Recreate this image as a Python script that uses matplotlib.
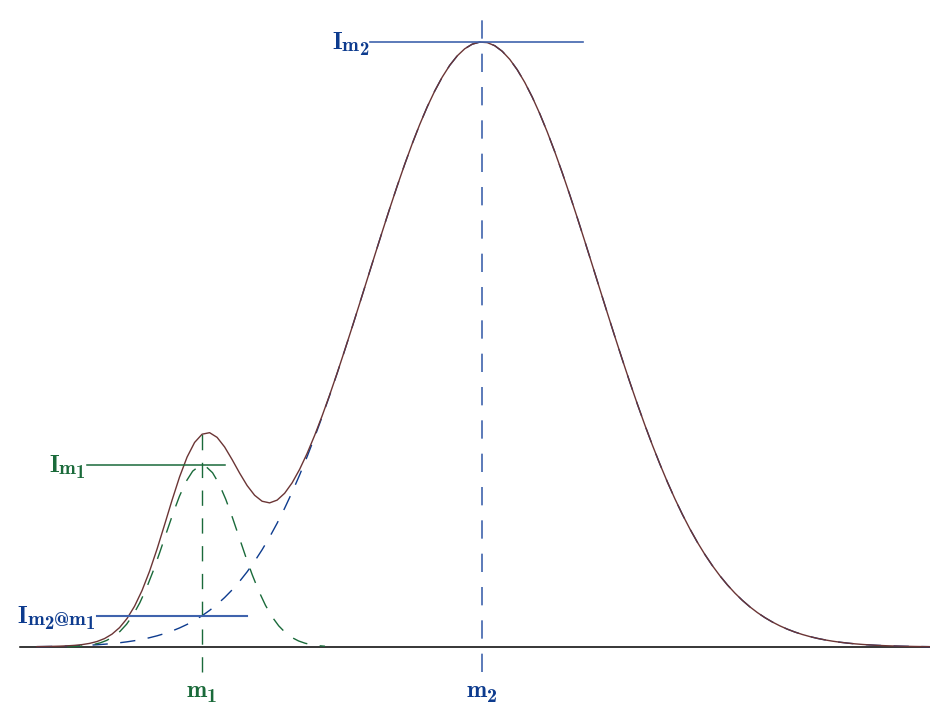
import numpy as np
import matplotlib.pyplot as plt
from matplotlib.transforms import offset_copy

# peak parameters (arbitrary mass units, intensity relative to big peak)
m1 = 20.0
m2 = 48.0
sigma1 = 3.7
sigma2 = 11.5
I1 = 0.30
I2 = 1.0

blue = '#0d3b8e'
blue_line = '#3f63ad'
green = '#1a6a3a'
brown = '#6b3535'

bold_font = ['cmb10', 'DejaVu Serif']


def gauss(x, mu, sig, amp):
    return amp * np.exp(-(x - mu) ** 2 / (2 * sig ** 2))


fig = plt.figure(figsize=(9.3, 7.05), dpi=100)
ax = fig.add_axes([0, 0, 1, 1])
ax.set_xlim(-0.2, 92.8)
ax.set_ylim(-0.0959, 1.0694)
ax.axis('off')
renderer = fig.canvas.get_renderer()


def label(x, y, parts, color, ha='right', gap=2):
    # parts: (text, fontsize, baseline offset in px below y)
    widths = []
    for s, size, dy in parts:
        t = ax.text(0, 0, s, fontsize=size, family=bold_font)
        widths.append(t.get_window_extent(renderer=renderer).width)
        t.remove()
    total = sum(widths)
    start = -total - gap if ha == 'right' else -total / 2
    for (s, size, dy), w in zip(parts, widths):
        tr = offset_copy(ax.transData, fig=fig, x=start * 0.72, y=-dy * 0.72, units='points')
        ax.text(x, y, s, fontsize=size, color=color, family=bold_font,
                transform=tr, ha='left', va='baseline')
        start += w


x = np.linspace(3.5, 92.8, 120)
xg = np.linspace(6.5, 32.3, 40)
g2 = gauss(x, m2, sigma2, I2)
g1 = gauss(xg, m1, sigma1, I1)
total = g2 + gauss(x, m1, sigma1, I1)
I21 = gauss(m1, m2, sigma2, I2)

dash = (0, (11, 9))

# baseline
ax.plot([1.8, 93], [0, 0], color='black', lw=1.1)

# component peaks
ax.plot(x, g2, color=blue, lw=1, ls=dash)
ax.plot(xg, g1, color=green, lw=1, ls=dash)
ax.plot(x, total, color=brown, lw=1)

# peak centres
ax.plot([m1, m1], [-0.041, 0.372], color=green, lw=1, ls=dash)
ax.plot([m2, m2], [-0.041, 1.053], color=blue_line, lw=1.2, ls=dash)

# intensity markers
ax.plot([36.8, 58.1], [I2, I2], color=blue_line, lw=1.2)
ax.plot([8.5, 22.3], [I1, I1], color=green, lw=1.1)
ax.plot([9.5, 24.5], [I21, I21], color=blue_line, lw=1.5)

label(36.8, I2, [('I', 17.5, 7), ('m', 14.5, 9), ('2', 13.5, 13)], blue)
label(8.5, I1, [('I', 17.5, 7), ('m', 14.5, 9), ('1', 13.5, 13)], green)
label(9.5, I21, [('I', 17.5, 7), ('m', 14.5, 9), ('2', 13.5, 13), ('@', 14, 10),
                 ('m', 14.5, 9), ('1', 13.5, 13)], blue)
label(m1, 0, [('m', 17.5, 50), ('1', 14.5, 55)], green, ha='center')
label(m2, 0, [('m', 17.5, 50), ('2', 14.5, 55)], blue, ha='center')

fig.savefig('out.png', dpi=100)
